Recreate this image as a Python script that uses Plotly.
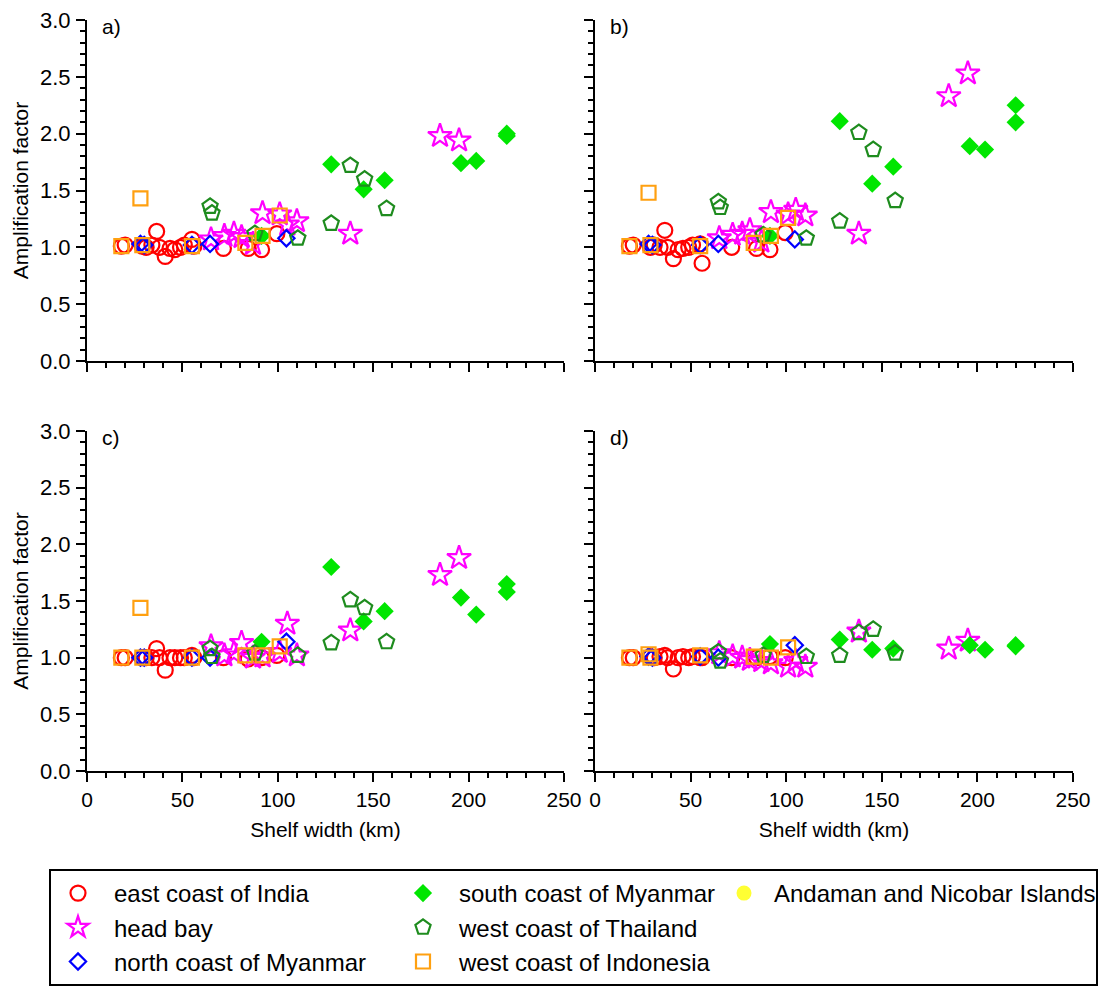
import plotly.graph_objects as go

# ---------------- data ----------------
panels = ["a)", "b)", "c)", "d)"]
x_ticks = [0, 50, 100, 150, 200, 250]
y_ticks = [0.0, 0.5, 1.0, 1.5, 2.0, 2.5, 3.0]

india_x = [18, 20, 29, 31, 34, 36.5, 38, 41, 43.5, 46, 49, 51, 55, 56, 71.5, 84.5, 91.5, 99.5]
india_y = [
    [1.01, 1.02, 1.01, 1.00, 1.02, 1.14, 1.00, 0.92, 0.99, 0.98, 1.00, 1.02, 1.07, 1.01, 0.99, 0.99, 0.98, 1.12],
    [1.01, 1.02, 1.00, 1.02, 1.00, 1.15, 1.00, 0.90, 0.98, 0.99, 1.00, 1.02, 1.03, 0.86, 1.00, 0.99, 0.98, 1.13],
    [1.00, 1.00, 1.00, 1.00, 1.00, 1.08, 1.00, 0.89, 1.00, 1.00, 1.00, 1.00, 1.02, 1.00, 1.00, 0.99, 1.00, 1.02],
    [1.00, 1.00, 1.01, 1.00, 1.01, 1.02, 1.00, 0.90, 1.00, 1.01, 1.00, 1.01, 1.00, 1.00, 1.00, 1.00, 1.01, 1.00],
]

headbay_x = [65, 72, 77, 81, 87, 92, 101, 105, 110, 138, 185, 195]
headbay_y = [
    [1.07, 1.10, 1.12, 1.09, 1.03, 1.30, 1.29, 1.20, 1.23, 1.12, 1.98, 1.94],
    [1.08, 1.11, 1.12, 1.15, 1.05, 1.31, 1.29, 1.33, 1.28, 1.12, 2.33, 2.53],
    [1.10, 1.02, 1.04, 1.13, 1.00, 1.01, 1.05, 1.30, 1.02, 1.24, 1.73, 1.88],
    [1.04, 1.01, 1.00, 0.98, 0.97, 0.95, 0.92, 0.97, 0.92, 1.23, 1.08, 1.15],
]

nmyanmar_x = [28, 30, 55, 64.5, 104.5]
nmyanmar_y = [
    [1.03, 1.02, 1.02, 1.03, 1.08],
    [1.03, 1.02, 1.02, 1.03, 1.07],
    [1.00, 1.00, 1.00, 1.00, 1.14],
    [1.01, 1.00, 1.01, 1.00, 1.11],
]

smyanmar_x = [91.5, 128, 145, 156, 196, 204, 220, 220]
smyanmar_y = [
    [1.10, 1.73, 1.51, 1.59, 1.74, 1.76, 1.98, 2.00],
    [1.10, 2.11, 1.56, 1.71, 1.89, 1.86, 2.10, 2.25],
    [1.14, 1.80, 1.32, 1.41, 1.53, 1.38, 1.58, 1.65],
    [1.12, 1.16, 1.07, 1.08, 1.11, 1.07, 1.10, 1.11],
]

thailand_x = [64.5, 65.5, 88, 110.5, 128, 138, 145.5, 157]
thailand_y = [
    [1.36, 1.30, 1.12, 1.08, 1.21, 1.72, 1.60, 1.34],
    [1.40, 1.35, 1.11, 1.08, 1.23, 2.01, 1.86, 1.41],
    [1.08, 1.01, 1.04, 1.02, 1.13, 1.51, 1.44, 1.14],
    [1.05, 0.97, 1.02, 1.01, 1.02, 1.22, 1.25, 1.04],
]

indonesia_x = [18, 28, 29, 55, 83, 92, 101]
indonesia_y = [
    [1.01, 1.43, 1.02, 1.01, 1.04, 1.10, 1.28],
    [1.01, 1.48, 1.02, 1.01, 1.04, 1.10, 1.26],
    [1.00, 1.44, 1.00, 1.00, 1.02, 1.02, 1.10],
    [1.00, 1.03, 1.00, 1.02, 1.01, 1.00, 1.09],
]

andaman_x = [None]
andaman_y = [[None], [None], [None], [None]]

series = [
    ("east coast of India", india_x, india_y, "circle-open", "#FF0000", 15, "legend"),
    ("head bay", headbay_x, headbay_y, "star-open", "#FF00FF", 18, "legend"),
    ("north coast of Myanmar", nmyanmar_x, nmyanmar_y, "diamond-open", "#0000FF", 12.5, "legend"),
    ("south coast of Myanmar", smyanmar_x, smyanmar_y, "diamond", "#00E600", 14, "legend2"),
    ("west coast of Thailand", thailand_x, thailand_y, "pentagon-open", "#1E8C1E", 16, "legend2"),
    ("west coast of Indonesia", indonesia_x, indonesia_y, "square-open", "#FFA010", 14, "legend2"),
    ("Andaman and Nicobar Islands", andaman_x, andaman_y, "circle", "#FFFF33", 15, "legend3"),
]

W, H = 1108, 987
FONT = "Liberation Sans, Arial, sans-serif"
XTICK_FS = 21
YTICK_FS = 22
TITLE_FS = 21

fig = go.Figure()

axis_ids = ["", "2", "3", "4"]
for p in range(4):
    for (name, xs, ys, sym, col, size, leg) in series:
        is_open = sym.endswith("-open")
        fig.add_trace(go.Scatter(
            x=xs, y=ys[p], mode="markers", name=name,
            xaxis="x" + axis_ids[p], yaxis="y" + axis_ids[p],
            legend=leg, showlegend=(p == 0),
            marker=dict(symbol=sym, size=size, color=col,
                        line=dict(width=2.2 if is_open else 0, color=col)),
            cliponaxis=False,
        ))

# plot-area pixel boxes
xdom = [(87, 564), (595, 1073)]
ydom = [(20, 361), (431, 771)]

def xd(px):
    return (px[0] / W, px[1] / W)

def yd(py):
    return (1 - py[1] / H, 1 - py[0] / H)

layout = dict(
    width=W, height=H, margin=dict(l=0, r=0, t=0, b=0, autoexpand=False),
    paper_bgcolor="white", plot_bgcolor="white",
    font=dict(family=FONT, size=20, color="black"),
)

for p in range(4):
    col = p % 2
    row = p // 2
    minor_x = dict(ticks="outside", ticklen=5, tickwidth=1.5, tickcolor="black", dtick=10, showgrid=False)
    minor_y = dict(ticks="outside", ticklen=5, tickwidth=1.5, tickcolor="black", dtick=0.1, showgrid=False)
    xa = dict(
        domain=xd(xdom[col]), range=[0, 250], anchor="y" + axis_ids[p],
        tickmode="array", tickvals=x_ticks, ticktext=[str(v) for v in x_ticks],
        showline=True, linecolor="black", linewidth=2,
        ticks="outside", ticklen=9, tickwidth=1.5, tickcolor="black",
        showgrid=False, zeroline=False, minor=minor_x, automargin=False,
        showticklabels=(row == 1), tickfont=dict(size=XTICK_FS, family=FONT),
        ticklabelstandoff=0,
    )
    if row == 1:
        xa["title"] = dict(text="Shelf width (km)", font=dict(size=TITLE_FS, family=FONT), standoff=12)
    ya = dict(
        domain=yd(ydom[row]), range=[0, 3], anchor="x" + axis_ids[p],
        tickmode="array", tickvals=y_ticks, ticktext=["%.1f" % v for v in y_ticks],
        showline=True, linecolor="black", linewidth=2,
        ticks="outside", ticklen=9, tickwidth=1.5, tickcolor="black",
        showgrid=False, zeroline=False, minor=minor_y, automargin=False,
        showticklabels=(col == 0), tickfont=dict(size=YTICK_FS, family=FONT),
        ticklabelstandoff=1,
    )
    if col == 0:
        ya["title"] = dict(text="Amplification factor", font=dict(size=TITLE_FS, family=FONT), standoff=6)
    layout["xaxis" + axis_ids[p]] = xa
    layout["yaxis" + axis_ids[p]] = ya

annotations = []
for p, lab in enumerate(panels):
    annotations.append(dict(
        text=lab, x=0.028, y=1.02, xref="x" + axis_ids[p] + " domain", yref="y" + axis_ids[p] + " domain",
        xanchor="left", yanchor="top", showarrow=False, font=dict(size=21, family=FONT),
    ))
layout["annotations"] = annotations

leg_common = dict(
    orientation="v", xanchor="left", yanchor="top", bgcolor="rgba(0,0,0,0)",
    borderwidth=0, font=dict(size=24, family=FONT, color="black"),
    itemwidth=62, tracegroupgap=0,
)
layout["legend"] = dict(leg_common, x=42 / W, y=1 - 871 / H)
layout["legend2"] = dict(leg_common, x=387 / W, y=1 - 871 / H)
layout["legend3"] = dict(leg_common, x=714 / W, y=1 - 871 / H, itemwidth=50)

layout["shapes"] = [dict(
    type="rect", xref="paper", yref="paper",
    x0=50 / W, x1=1097 / W, y0=1 - 985 / H, y1=1 - 870 / H,
    line=dict(color="black", width=2), fillcolor="rgba(0,0,0,0)",
)]

fig.update_layout(**layout)
fig.write_html("out.html")
